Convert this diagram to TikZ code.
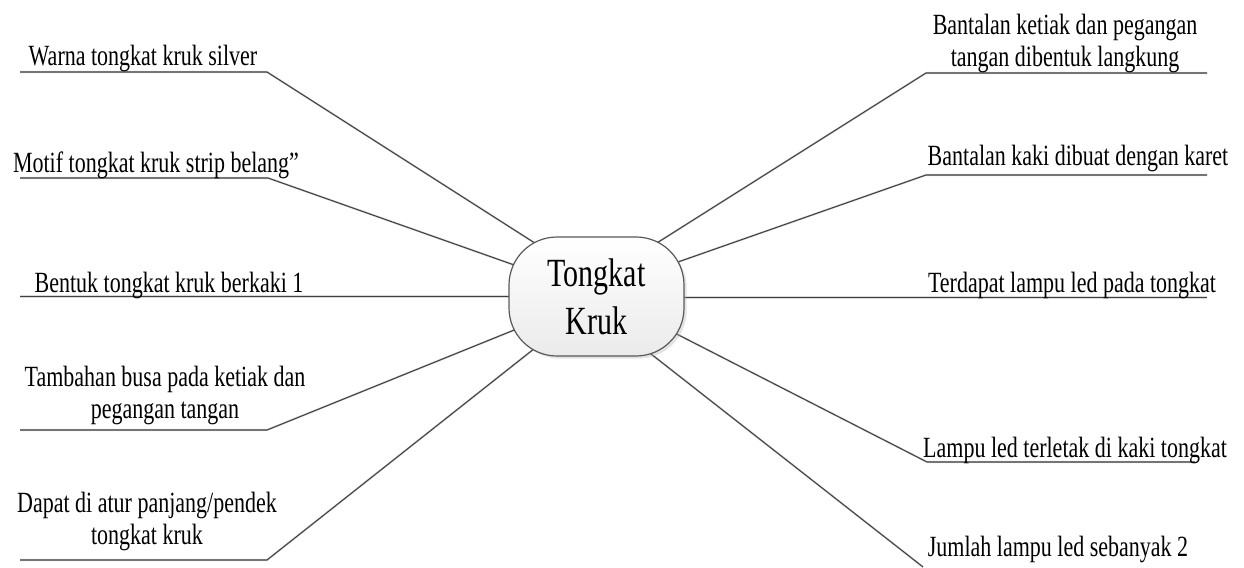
\documentclass[tikz,border=0pt]{standalone}
\usepackage{fontspec}
\setmainfont{Liberation Serif}[FakeStretch=0.75]
\usetikzlibrary{backgrounds,shadows}
\begin{document}
\begin{tikzpicture}[x=0.75pt,y=-0.75pt,
  lbl/.style={font=\fontsize{22}{23.5}\selectfont, inner sep=0pt, anchor=base, align=center},
  conn/.style={draw=black!75, line width=0.8pt},
  shd/.style={draw=black!15, line width=1.6pt, shift={(4,5)}},
  hub/.style={draw=black!65, line width=0.9pt, rounded corners=36pt,
    minimum width=131.25pt, minimum height=89.25pt, inner sep=0pt,
    top color=white, bottom color=black!8, align=center,
    font=\fontsize{30}{36}\selectfont,
    drop shadow={shadow xshift=2pt, shadow yshift=-2pt, fill=black!30, opacity=0.35}}
]
\useasboundingbox (0,0) rectangle (1244,567);

% central node
\node[hub] (tk) at (596.5,296.5) {Tongkat\\Kruk};

% points inside the hub where connectors end (hidden by the hub)
\coordinate (eL1) at (552,254);
\coordinate (eL2) at (534,272);
\coordinate (eL4) at (534,322);
\coordinate (eL5) at (549,337);
\coordinate (eR1) at (641,253);
\coordinate (eR2) at (658,269);
\coordinate (eR4) at (659,325);
\coordinate (eR5) at (637,343);

% underline ends and knees
\coordinate (aL1) at (20,72);   \coordinate (kL1) at (267,72);
\coordinate (aL2) at (20,178);  \coordinate (kL2) at (268,178);
\coordinate (aL3) at (20,296.5);
\coordinate (aL4) at (20,430);  \coordinate (kL4) at (267,430);
\coordinate (aL5) at (20,560);  \coordinate (kL5) at (267,560);
\coordinate (aR1) at (1207,73); \coordinate (kR1) at (926,73);
\coordinate (aR2) at (1207,175);\coordinate (kR2) at (926,175);
\coordinate (aR3) at (1207,297.5);
\coordinate (aR4) at (1195,462);\coordinate (kR4) at (927,462);
\coordinate (aR5) at (923,567);

% labels (for two-line labels the base is the last line)
\node[lbl] (tL1) at (143,65) {Warna tongkat kruk silver};
\node[lbl] (tL2) at (156,172) {Motif tongkat kruk strip belang”};
\node[lbl] (tL3) at (169,292) {Bentuk tongkat kruk berkaki 1};
\node[lbl] (tL4) at (165,418) {Tambahan busa pada ketiak dan\\pegangan tangan};
\node[lbl] (tL5) at (147,544) {Dapat di atur panjang/pendek\\tongkat kruk};
\node[lbl] (tR1) at (1065,66) {Bantalan ketiak dan pegangan\\tangan dibentuk langkung};
\node[lbl] (tR2) at (1078,165) {Bantalan kaki dibuat dengan karet};
\node[lbl] (tR3) at (1072,292) {Terdapat lampu led pada tongkat};
\node[lbl] (tR4) at (1075,457) {Lampu led terletak di kaki tongkat};
\node[lbl] (tR5) at (1058,556) {Jumlah lampu led sebanyak 2};

\begin{scope}[on background layer]
  % shadows
  \draw[shd] (aL1) -- (kL1) -- (eL1);
  \draw[shd] (aL2) -- (kL2) -- (eL2);
  \draw[shd] (aL3) -- (aL3 -| tk.center);
  \draw[shd] (aL4) -- (kL4) -- (eL4);
  \draw[shd] (aL5) -- (kL5) -- (eL5);
  \draw[shd] (aR1) -- (kR1) -- (eR1);
  \draw[shd] (aR2) -- (kR2) -- (eR2);
  \draw[shd] (aR3) -- (aR3 -| tk.center);
  \draw[shd] (aR4) -- (kR4) -- (eR4);
  \draw[shd] (aR5) -- (eR5);
  % connectors
  \draw[conn] (aL1) -- (kL1) -- (eL1);
  \draw[conn] (aL2) -- (kL2) -- (eL2);
  \draw[conn] (aL3) -- (aL3 -| tk.center);
  \draw[conn] (aL4) -- (kL4) -- (eL4);
  \draw[conn] (aL5) -- (kL5) -- (eL5);
  \draw[conn] (aR1) -- (kR1) -- (eR1);
  \draw[conn] (aR2) -- (kR2) -- (eR2);
  \draw[conn] (aR3) -- (aR3 -| tk.center);
  \draw[conn] (aR4) -- (kR4) -- (eR4);
  \draw[conn] (aR5) -- (eR5);
\end{scope}
\end{tikzpicture}
\end{document}
